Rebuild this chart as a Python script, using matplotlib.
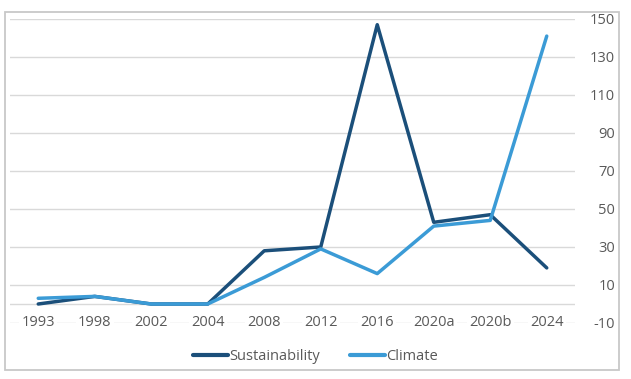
import numpy as np
import matplotlib.pyplot as plt
from matplotlib.patches import Rectangle

# Chart data
categories = ["1993", "1998", "2002", "2004", "2008", "2012", "2016", "2020a", "2020b", "2024"]
sustainability = [0, 4, 0, 0, 28, 30, 147, 43, 47, 19]
climate = [3, 4, 0, 0, 14, 29, 16, 41, 44, 141]
y_ticks = [-10, 10, 30, 50, 70, 90, 110, 130, 150]

dark_blue = "#1b4f7a"
light_blue = "#3b9bd6"
grid_color = "#d9d9d9"
text_color = "#595959"

plt.rcParams["font.family"] = ["Open Sans", "DejaVu Sans"]

W, H = 631, 379
fig = plt.figure(figsize=[W / 100, H / 100], dpi=100)

# Axes placed in pixel terms
left, right, top, bottom = 10, 575, 19, 323
ax = fig.add_axes([left / W, 1 - bottom / H, (right - left) / W, (bottom - top) / H])

x = np.arange(len(categories))
ax.plot(x, sustainability, color=dark_blue, lw=2.5, solid_joinstyle="round",
        solid_capstyle="round", label="Sustainability", zorder=3)
ax.plot(x, climate, color=light_blue, lw=2.5, solid_joinstyle="round",
        solid_capstyle="round", label="Climate", zorder=4)

ax.set_xlim(-0.5, len(categories) - 0.5)
ax.set_ylim(-10, 150)

# Horizontal gridlines plus the zero axis line
for v in y_ticks:
    ax.axhline(v, color=grid_color, lw=1, zorder=1)
ax.axhline(0, color=grid_color, lw=1, zorder=1)

for s in ax.spines.values():
    s.set_visible(False)

ax.yaxis.tick_right()
ax.set_yticks(y_ticks)
ax.set_yticklabels([str(v) for v in y_ticks])
ax.tick_params(axis="y", length=0, pad=29, labelsize=10.5, labelcolor=text_color)
for lab in ax.get_yticklabels():
    lab.set_horizontalalignment("right")

ax.set_xticks(x)
ax.set_xticklabels(categories)
ax.tick_params(axis="x", length=0, pad=0, labelsize=10.5, labelcolor=text_color)
for lab in ax.get_xticklabels():
    lab.set_verticalalignment("center")
    lab.set_bbox(dict(facecolor="white", edgecolor="none", pad=1.5))

leg = fig.legend(loc="center", bbox_to_anchor=(0.5, 1 - 357 / H), ncol=2,
                 frameon=False, fontsize=10.5, handlelength=2.4, handletextpad=0.1,
                 columnspacing=2.0, labelcolor=text_color)
for line in leg.get_lines():
    line.set_linewidth(3)

# Chart border
fig.patches.append(Rectangle((5 / W, 1 - 370 / H), 614 / W, 358 / H,
                             transform=fig.transFigure, fill=False,
                             edgecolor="#c8c8c8", lw=1.3))

plt.savefig("out.png", dpi=100)
